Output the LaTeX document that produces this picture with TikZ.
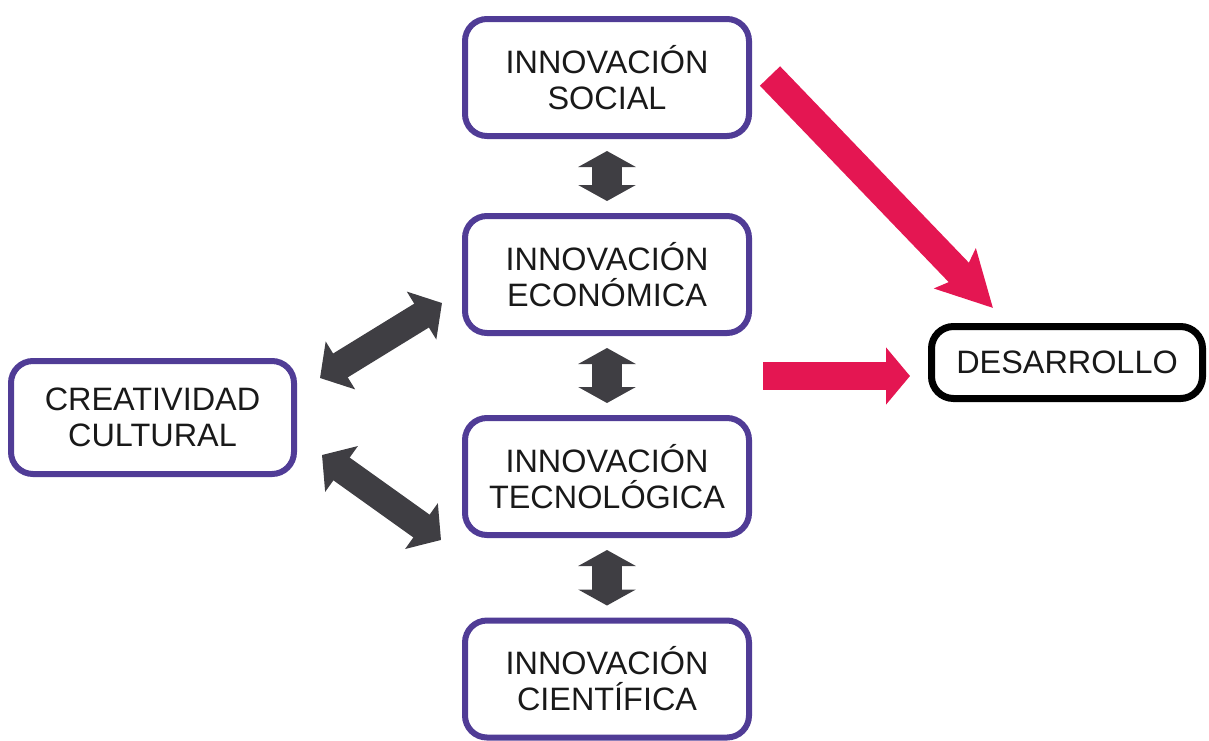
\documentclass[tikz,border=0pt]{standalone}
\usepackage{fontspec}
\setmainfont{Liberation Sans}
\usetikzlibrary{arrows.meta,calc,positioning}

\definecolor{boxviolet}{RGB}{80,60,150}
\definecolor{arrowgray}{RGB}{63,62,67}
\definecolor{arrowred}{RGB}{228,22,82}

\begin{document}
\begin{tikzpicture}[x=0.5pt,y=-0.5pt,
  box/.style={draw=boxviolet,line width=3pt,rounded corners=11pt,
    minimum width=142pt,minimum height=58.5pt,align=center,inner sep=0pt,
    text=black!90,font=\fontsize{16.2}{18}\selectfont},
  link/.style={arrowgray,line width=15pt,
    {Triangle[length=8pt,width=28.5pt]}-{Triangle[length=8pt,width=28.5pt]},
    shorten <=6pt,shorten >=6pt},
  slant/.style={arrowgray,line width=14pt,
    {Triangle[length=12pt,width=27.5pt]}-{Triangle[length=12pt,width=27.5pt]}},
  push/.style={arrowred,line width=14pt}]
  \useasboundingbox (0,0) rectangle (1209,740);

  % innovation column
  \node[box] (soc) at (607,77.5) {INNOVACIÓN\\SOCIAL};
  \node[box] (eco) at (607,274.5) {INNOVACIÓN\\ECONÓMICA};
  \node[box] (tec) at (607,476.5) {INNOVACIÓN\\TECNOLÓGICA};
  \node[box] (cie) at (607,679) {INNOVACIÓN\\CIENTÍFICA};

  \node[box,minimum width=141.5pt,minimum height=56.5pt] (cre)
    at (152.5,417.5) {CREATIVIDAD\\CULTURAL};
  \node[box,draw=black,line width=3.5pt,minimum width=135.5pt,
    minimum height=36pt] (des) at (1067,362.5) {DESARROLLO};

  % two-way links
  \draw[link] (soc) -- (eco);
  \draw[link] (eco) -- (tec);
  \draw[link] (tec) -- (cie);
  \draw[slant] ($(cre.east)+(23,-39.5)$) -- ($(eco.west)+(-20,28.5)$);
  \draw[slant] ($(cre.east)+(25,37.5)$) -- ($(tec.west)+(-21,63.5)$);

  % towards development
  \draw[push,-{Stealth[length=27pt,width=28pt,inset=5pt]}]
    ($(soc.east)+(18,-1.5)$) -- ($(des.north)+(-74,-15)$);
  \draw[push,-{Triangle[length=12pt,width=28pt]}]
    ($(eco.east |- des.west)+(11,13.5)$) -- ($(des.west)+(-18,13.5)$);
\end{tikzpicture}
\end{document}
